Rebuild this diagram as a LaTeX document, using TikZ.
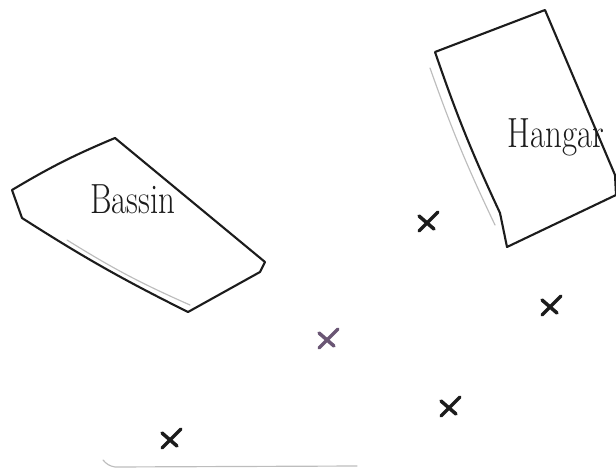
\documentclass[tikz,border=0pt]{standalone}
\usetikzlibrary{positioning}
\definecolor{penC}{HTML}{1C1C1C}
\definecolor{violetC}{HTML}{6A5674}
\definecolor{faintC}{HTML}{BDBDBD}
\newcommand{\spotx}[3][penC]{%
  \coordinate (#2) at (#3);
  \draw[xstroke, #1] ([shift={(-8,9)}]#2) -- ([shift={(11,-10)}]#2);
  \draw[xstroke, #1] ([shift={(-8,-6)}]#2) -- ([shift={(7,7)}]#2);
}
\tikzset{
  outline/.style={draw=penC, line width=1.8pt, line join=round, line cap=round},
  ghost/.style={draw=faintC, line width=1pt, line cap=round},
  lbl/.style={font=\fontsize{36}{38}\selectfont, inner sep=0pt, text=penC, xscale=0.78},
  xstroke/.style={line width=3pt, line cap=round},
}

\begin{document}
\begin{tikzpicture}[x=0.3mm, y=-0.3mm]
\useasboundingbox (0,0) rectangle (616,471);
% basin
\draw[outline] (12,190) to[bend left=4] (115,138) -- (265,262) -- (260,272)
  -- (188,312) to[bend left=3] (22,218) -- cycle;
\draw[ghost] (67,240) to[bend right=4] (190,305);
\node[lbl] (basin) at (133,199) {Bassin};
% hangar
\draw[outline] (435,52) -- (545,10) -- (615,175) -- (616,195) -- (507,247)
  -- (500,213) to[bend left=3] cycle;
\draw[ghost] (430,68) to[bend right=3] (495,225);
\node[lbl] (hangar) at (556,137) {Hangar};
% marks
\spotx{m1}{427,222}
\spotx{m2}{550,306}
\spotx[violetC]{m3}{327,339}
\spotx{m4}{449,407}
\spotx{m5}{170,439}
% faint edge at the bottom
\coordinate (e1) at (103,460);
\coordinate (e2) at (357,466);
\draw[ghost] (e1) to[bend right=20] ([shift={(12,7)}]e1) -- (e2);
\end{tikzpicture}
\end{document}
